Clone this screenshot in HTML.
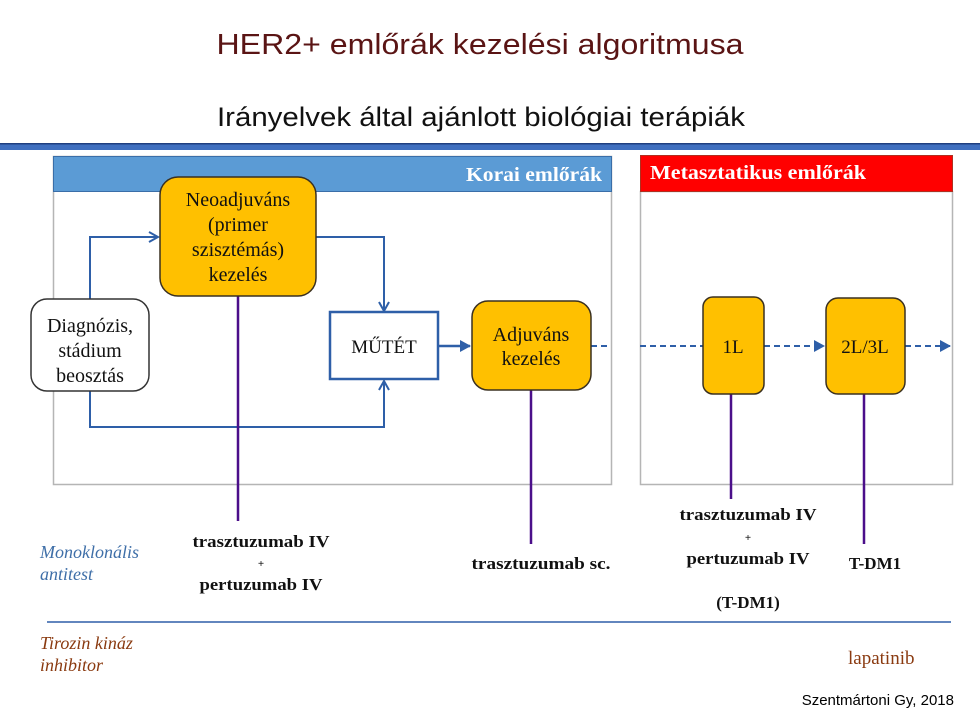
<!DOCTYPE html>
<html><head><meta charset="utf-8"><style>
html,body{margin:0;padding:0;background:#fff;}
svg{display:block;}
.s{font-family:"Liberation Serif",serif;}
.b{font-family:"Liberation Serif",serif;font-weight:bold;}
</style></head><body>
<svg width="980" height="720" viewBox="0 0 980 720" xmlns="http://www.w3.org/2000/svg">
<defs>
<marker id="oa" markerWidth="12" markerHeight="12" refX="10" refY="6" orient="auto" markerUnits="userSpaceOnUse"><path d="M1,1 L10,6 L1,11" fill="none" stroke="#2e5fa8" stroke-width="2"/></marker>
<marker id="fa" markerWidth="12" markerHeight="12" refX="10" refY="6" orient="auto" markerUnits="userSpaceOnUse"><path d="M0,0 L11,6 L0,12 Z" fill="#2e5fa8"/></marker>
</defs>
<text x="480" y="54" text-anchor="middle" font-family="Liberation Sans,sans-serif" font-size="29" fill="#5a1414" textLength="527" lengthAdjust="spacingAndGlyphs">HER2+ emlőrák kezelési algoritmusa</text>
<text x="481" y="126" text-anchor="middle" font-family="Liberation Sans,sans-serif" font-size="27" fill="#111" textLength="528" lengthAdjust="spacingAndGlyphs">Irányelvek által ajánlott biológiai terápiák</text>
<rect x="0" y="143" width="980" height="7" fill="#3f6fbf"/>
<rect x="0" y="143" width="980" height="1.5" fill="#1f3f80"/>
<rect x="53.5" y="156.5" width="558" height="328" fill="#fff" stroke="#b5b5b5" stroke-width="1.5"/>
<rect x="53.5" y="156.5" width="558" height="35" fill="#5b9bd5" stroke="#3a6ea8" stroke-width="1"/>
<text x="602" y="181" text-anchor="end" class="b" font-size="20" fill="#fff" textLength="136" lengthAdjust="spacingAndGlyphs">Korai emlőrák</text>
<rect x="640.5" y="155.5" width="312" height="36" fill="#ff0000" stroke="#b03020" stroke-width="1"/>
<rect x="640.5" y="191.5" width="312" height="293" fill="#fff" stroke="#b5b5b5" stroke-width="1.5"/>
<rect x="640.5" y="155.5" width="312" height="36" fill="#ff0000" stroke="#b03020" stroke-width="1"/>
<text x="650" y="179" class="b" font-size="20" fill="#fff" textLength="216" lengthAdjust="spacingAndGlyphs">Metasztatikus emlőrák</text>
<g fill="none" stroke="#2e5fa8" stroke-width="2">
<path d="M90,299 V237 H158" marker-end="url(#oa)"/>
<path d="M316,237 H384 V311" marker-end="url(#oa)"/>
<path d="M90,391 V427 H384 V381" marker-end="url(#oa)"/>
<path d="M438,346 H470" stroke-width="2.5" marker-end="url(#fa)"/>
<path d="M591,346 H611" stroke-dasharray="6,4"/>
<path d="M640,346 H703" stroke-dasharray="6,4"/>
<path d="M764,346 H824" stroke-dasharray="6,4" marker-end="url(#fa)"/>
<path d="M905,346 H950" stroke-dasharray="6,4" marker-end="url(#fa)"/>
</g>
<g stroke="#4b0f8a" stroke-width="2.5">
<line x1="238" y1="296" x2="238" y2="521"/>
<line x1="531" y1="390" x2="531" y2="544"/>
<line x1="731" y1="394" x2="731" y2="499"/>
<line x1="864" y1="394" x2="864" y2="544"/>
</g>
<rect x="160" y="177" width="156" height="119" rx="18" fill="#ffc000" stroke="#3a3020" stroke-width="1.5"/>
<text class="s" font-size="20" fill="#111" text-anchor="middle"><tspan x="238" y="206">Neoadjuváns</tspan><tspan x="238" y="231">(primer</tspan><tspan x="238" y="256">szisztémás)</tspan><tspan x="238" y="281">kezelés</tspan></text>
<rect x="31" y="299" width="118" height="92" rx="16" fill="#fff" stroke="#333" stroke-width="1.5"/>
<text class="s" font-size="20" fill="#111" text-anchor="middle"><tspan x="90" y="332">Diagnózis,</tspan><tspan x="90" y="357">stádium</tspan><tspan x="90" y="382">beosztás</tspan></text>
<rect x="330" y="312" width="108" height="67" fill="#fff" stroke="#2e5fa8" stroke-width="2.5"/>
<text x="384" y="353" class="s" font-size="19" fill="#111" text-anchor="middle">MŰTÉT</text>
<rect x="472" y="301" width="119" height="89" rx="16" fill="#ffc000" stroke="#3a3020" stroke-width="1.5"/>
<text class="s" font-size="20" fill="#111" text-anchor="middle"><tspan x="531" y="341">Adjuváns</tspan><tspan x="531" y="365">kezelés</tspan></text>
<rect x="703" y="297" width="61" height="97" rx="10" fill="#ffc000" stroke="#3a3020" stroke-width="1.5"/>
<text x="733" y="353" class="s" font-size="19" fill="#111" text-anchor="middle">1L</text>
<rect x="826" y="298" width="79" height="96" rx="12" fill="#ffc000" stroke="#3a3020" stroke-width="1.5"/>
<text x="865" y="353" class="s" font-size="19" fill="#111" text-anchor="middle">2L/3L</text>
<g class="b" font-size="17" fill="#111" text-anchor="middle">
<text x="261" y="547" textLength="137" lengthAdjust="spacingAndGlyphs">trasztuzumab IV</text>
<text x="261" y="567" font-size="11">+</text>
<text x="261" y="590" textLength="123" lengthAdjust="spacingAndGlyphs">pertuzumab IV</text>
<text x="541" y="569" textLength="139" lengthAdjust="spacingAndGlyphs">trasztuzumab sc.</text>
<text x="748" y="520" textLength="137" lengthAdjust="spacingAndGlyphs">trasztuzumab IV</text>
<text x="748" y="541" font-size="11">+</text>
<text x="748" y="564" textLength="123" lengthAdjust="spacingAndGlyphs">pertuzumab IV</text>
<text x="748" y="608">(T-DM1)</text>
<text x="875" y="569">T-DM1</text>
</g>
<text class="s" font-size="18" font-style="italic" fill="#3f6fa8"><tspan x="40" y="558">Monoklonális</tspan><tspan x="40" y="580">antitest</tspan></text>
<line x1="47" y1="622" x2="951" y2="622" stroke="#2e5fa8" stroke-width="1.5"/>
<text class="s" font-size="18" font-style="italic" fill="#8a3a10"><tspan x="40" y="649">Tirozin kináz</tspan><tspan x="40" y="671">inhibitor</tspan></text>
<text x="848" y="664" class="s" font-size="19" fill="#8a3a10">lapatinib</text>
<text x="954" y="705" text-anchor="end" font-family="Liberation Sans,sans-serif" font-size="15" fill="#000">Szentmártoni Gy, 2018</text>
</svg>
</body></html>
